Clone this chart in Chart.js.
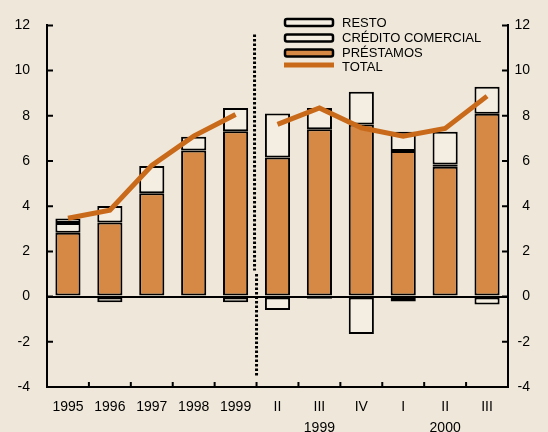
<!DOCTYPE html>
<html>
<head>
<meta charset="utf-8">
<script src="https://cdn.jsdelivr.net/npm/chart.js@4"></script>
<style>
  html, body { margin: 0; padding: 0; background: #EFE8DA; }
  #wrap { width: 548px; height: 432px; }
</style>
</head>
<body>
<div id="wrap"><canvas id="chart" width="548" height="432"></canvas></div>
<script>
"use strict";

// datos
const categories = ['1995', '1996', '1997', '1998', '1999', 'II', ['III', '1999'], 'IV', 'I', ['II', '2000'], 'III'];
const prestamos = [2.82, 3.28, 4.57, 6.47, 7.32, 6.15, 7.40, 7.62, 6.44, 5.75, 8.09];
const credito   = [0.44, 0.73, 1.21, 0.60, 1.03, 1.95, 0.95, 1.44, 0.85, 0.10, 1.19];
const resto     = [0.20, -0.25, null, null, -0.25, -0.59, -0.10, -1.65, -0.22, 1.44, -0.35];
const totalAnual = [3.47, 3.82, 5.80, 7.10, 8.06, null, null, null, null, null, null];
const totalTrim  = [null, null, null, null, null, 7.62, 8.35, 7.47, 7.10, 7.44, 8.87];
const yMin = -4, yMax = 12, yStep = 2;

const FONT = '"Liberation Sans", Arial, sans-serif';
const ORANGE = '#D68944';
const LINE = '#C96A1B';
const LIGHT = '#F3EDE2';

// marcas de los ejes hacia dentro + línea de puntos + leyenda
const extras = {
  id: 'extras',
  afterDatasetsDraw(chart) {
    const { ctx, chartArea, scales } = chart;
    ctx.save();
    ctx.strokeStyle = '#000';
    ctx.lineWidth = 2;
    ctx.beginPath();
    scales.y.ticks.forEach(t => {
      const py = scales.y.getPixelForValue(t.value);
      ctx.moveTo(chartArea.left, py); ctx.lineTo(chartArea.left + 6, py);
      ctx.moveTo(chartArea.right - 6, py); ctx.lineTo(chartArea.right, py);
    });
    for (let i = 0; i < categories.length - 1; i++) {
      const px = (scales.x.getPixelForValue(i) + scales.x.getPixelForValue(i + 1)) / 2;
      ctx.moveTo(px, chartArea.bottom); ctx.lineTo(px, chartArea.bottom - 5);
    }
    ctx.stroke();

    // separador años / trimestres
    const sx = (scales.x.getPixelForValue(4) + scales.x.getPixelForValue(5)) / 2;
    ctx.lineWidth = 3;
    ctx.setLineDash([2.5, 2]);
    ctx.beginPath();
    ctx.moveTo(sx - 2, scales.y.getPixelForValue(11.6));
    ctx.lineTo(sx - 2, scales.y.getPixelForValue(1.15));
    ctx.moveTo(sx, scales.y.getPixelForValue(1.0));
    ctx.lineTo(sx, scales.y.getPixelForValue(-3.5));
    ctx.stroke();
    ctx.setLineDash([]);

    // leyenda
    const items = [
      { text: 'RESTO', fill: LIGHT, y: 22.5 },
      { text: 'CRÉDITO COMERCIAL', fill: LIGHT, y: 38 },
      { text: 'PRÉSTAMOS', fill: ORANGE, y: 53 },
    ];
    ctx.font = '13px ' + FONT;
    ctx.textBaseline = 'middle';
    items.forEach(it => {
      ctx.beginPath();
      ctx.roundRect(285, it.y - 3.5, 48, 7, 2);
      ctx.fillStyle = it.fill;
      ctx.fill();
      ctx.lineWidth = 2.5;
      ctx.strokeStyle = '#000';
      ctx.stroke();
      ctx.fillStyle = '#000';
      ctx.fillText(it.text, 342, it.y + 0.5);
    });
    ctx.fillStyle = LINE;
    ctx.fillRect(284, 62.5, 50, 5);
    ctx.fillStyle = '#000';
    ctx.fillText('TOTAL', 342, 67.5);
    ctx.restore();
  }
};

const barBase = {
  type: 'bar',
  yAxisID: 'y',
  borderColor: '#000',
  borderWidth: 2,
  borderSkipped: false,
  categoryPercentage: 1,
  barPercentage: 0.6,
  order: 1
};

const lineBase = {
  type: 'line',
  yAxisID: 'y2',
  borderColor: LINE,
  borderWidth: 5,
  pointRadius: 0,
  tension: 0,
  spanGaps: false,
  order: 0
};

new Chart(document.getElementById('chart'), {
  data: {
    labels: categories,
    datasets: [
      { ...lineBase, label: 'TOTAL', data: totalAnual },
      { ...lineBase, label: 'TOTAL ', data: totalTrim },
      { ...barBase, label: 'PRÉSTAMOS', data: prestamos, backgroundColor: ORANGE },
      { ...barBase, label: 'CRÉDITO COMERCIAL', data: credito, backgroundColor: LIGHT },
      { ...barBase, label: 'RESTO', data: resto, backgroundColor: LIGHT }
    ]
  },
  options: {
    responsive: false,
    animation: false,
    layout: { padding: { top: 24, right: 18, bottom: 0, left: 0 } },
    plugins: {
      legend: { display: false },
      tooltip: { enabled: false }
    },
    scales: {
      x: {
        stacked: true,
        grid: { display: false, drawTicks: false },
        border: { display: true, color: '#000', width: 2 },
        ticks: {
          color: '#000',
          font: { family: FONT, size: 14, lineHeight: 1.5 },
          padding: 10,
          autoSkip: false,
          maxRotation: 0
        },
        afterFit(scale) { scale.height = 45; }
      },
      y: {
        stacked: true,
        position: 'left',
        min: yMin, max: yMax,
        grid: {
          drawTicks: false,
          color: ctx => ctx.tick && ctx.tick.value === 0 ? '#000' : 'rgba(0,0,0,0)',
          lineWidth: 2
        },
        border: { display: true, color: '#000', width: 2 },
        ticks: {
          stepSize: yStep,
          color: '#000',
          font: { family: FONT, size: 14 },
          padding: 17
        },
        afterFit(scale) { scale.width = 47; }
      },
      y2: {
        position: 'right',
        min: yMin, max: yMax,
        grid: { display: false, drawTicks: false },
        border: { display: true, color: '#000', width: 2 },
        ticks: {
          stepSize: yStep,
          color: '#000',
          font: { family: FONT, size: 14 },
          crossAlign: 'far'
        },
        afterFit(scale) { scale.width = 22; }
      }
    }
  },
  plugins: [extras]
});
</script>
</body>
</html>
